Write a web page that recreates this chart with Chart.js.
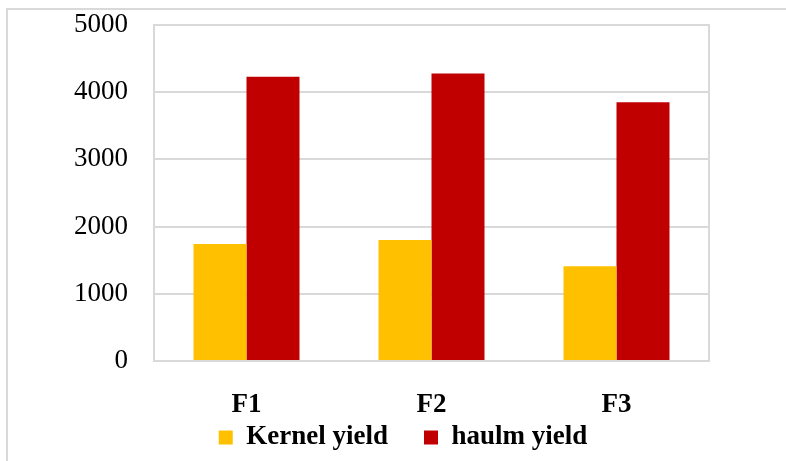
<!DOCTYPE html>
<html>
<head>
<meta charset="utf-8">
<script src="https://cdn.jsdelivr.net/npm/chart.js@4"></script>
<style>
  html, body { margin: 0; padding: 0; background: #fff; overflow: hidden; }
  #frame {
    position: absolute; left: 6px; top: 8px; width: 900px; height: 600px;
    border-top: 2px solid #d9d9d9; border-left: 2px solid #d9d9d9;
  }
  #wrap { position: absolute; left: 0; top: 0; width: 786px; height: 461px; }
</style>
</head>
<body>
<div id="frame"></div>
<div id="wrap"><canvas id="yieldChart" width="786" height="461"></canvas></div>
<script>
const categories = ['F1', 'F2', 'F3'];
const kernelYield = [1740, 1800, 1410];
const haulmYield = [4230, 4280, 3850];
const yTicks = [0, 1000, 2000, 3000, 4000, 5000];

// box around the plot area
const plotBox = {
  id: 'plotBox',
  afterDraw(chart) {
    const { ctx, chartArea: a } = chart;
    ctx.save();
    ctx.strokeStyle = '#d9d9d9';
    ctx.lineWidth = 2;
    ctx.strokeRect(a.left, a.top, a.right - a.left, a.bottom - a.top);
    ctx.restore();
  }
};

const ctx = document.getElementById('yieldChart').getContext('2d');
new Chart(ctx, {
  type: 'bar',
  data: {
    labels: categories,
    datasets: [
      { label: 'Kernel yield', data: kernelYield, backgroundColor: '#FFC000', borderWidth: 0 },
      { label: 'haulm yield', data: haulmYield, backgroundColor: '#C00000', borderWidth: 0 }
    ]
  },
  options: {
    responsive: false,
    animation: false,
    layout: { padding: { left: 20, top: 25, right: 0, bottom: 0 } },
    datasets: { bar: { barPercentage: 1, categoryPercentage: 0.573 } },
    plugins: {
      tooltip: { enabled: false },
      legend: {
        position: 'bottom',
        labels: {
          color: '#000',
          font: { family: '"Liberation Serif"', size: 27, weight: 'bold' },
          boxWidth: 14,
          boxHeight: 14,
          padding: 36
        }
      }
    },
    scales: {
      x: {
        grid: { display: false },
        border: { display: false },
        ticks: {
          color: '#000',
          padding: 20,
          font: { family: '"Liberation Serif"', size: 27, weight: 'bold' }
        },
        afterFit: s => {
          s.height = 27;
          // let the labels hang below the short axis box
          s._computeLabelArea = () => undefined;
        }
      },
      y: {
        min: 0,
        max: 5000,
        afterBuildTicks: s => { s.ticks = yTicks.map(v => ({ value: v })); },
        grid: { color: '#d9d9d9', lineWidth: 2, drawTicks: false },
        border: { display: false },
        ticks: {
          color: '#000',
          padding: 26,
          callback: v => String(v),
          font: { family: '"Liberation Serif"', size: 27 }
        },
        afterFit: s => { s.width = 134; s.paddingTop = 0; s.paddingBottom = 0; }
      },
      yRight: {
        position: 'right',
        grid: { display: false },
        border: { display: false },
        ticks: { display: false },
        afterFit: s => { s.width = 77; s.paddingTop = 0; s.paddingBottom = 0; }
      }
    }
  },
  plugins: [plotBox]
});
</script>
</body>
</html>
